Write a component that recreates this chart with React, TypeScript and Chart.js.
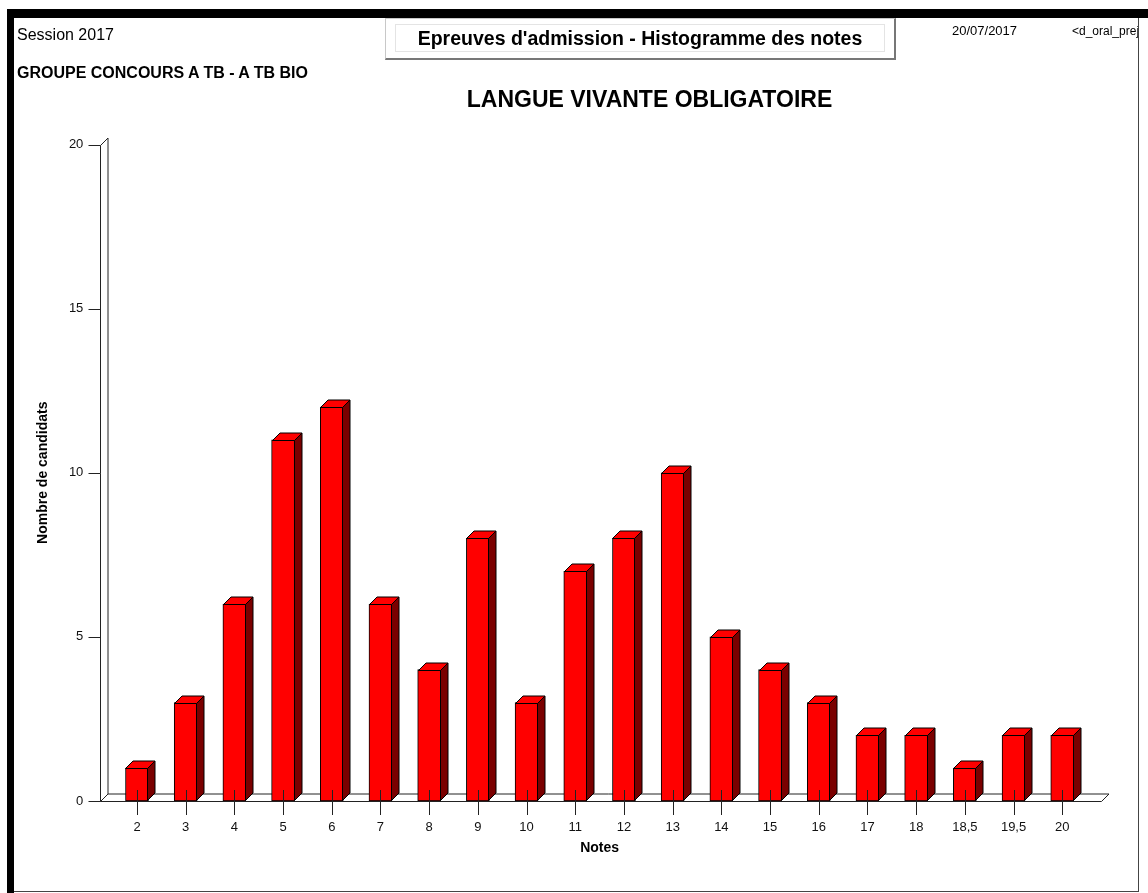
import React, { useEffect, useRef } from "react";
import { Chart, registerables } from "chart.js";

Chart.register(...registerables);

const categories = ["2", "3", "4", "5", "6", "7", "8", "9", "10", "11", "12", "13", "14", "15", "16", "17", "18", "18,5", "19,5", "20"];
const candidats = [1, 3, 6, 11, 12, 6, 4, 8, 3, 7, 8, 10, 5, 4, 3, 2, 2, 1, 2, 2];
const yTicks = [0, 5, 10, 15, 20];

const FONT = '"Liberation Sans", Arial, sans-serif';
const BAR_DX = 7.5;
const BAR_DY = 7.5;
const FLOOR_DX = 7.5;
const FLOOR_DY = 7.5;
const AXIS_COLOR = "#222";

const bar3d = {
  id: "bar3d",
  beforeDatasetsDraw(chart: any) {
    const { ctx, chartArea, scales } = chart;
    const ys = scales.y;
    const x0 = Math.round(chartArea.left - 12.5) + 0.5;
    const xEnd = Math.round(chartArea.right + 14.5) + 0.5;
    const yBase = Math.round(ys.getPixelForValue(0)) + 0.5;
    const yTop = Math.round(ys.getPixelForValue(ys.max)) + 0.5;
    ctx.save();
    ctx.strokeStyle = AXIS_COLOR;
    ctx.lineWidth = 1;
    ctx.beginPath();
    ys.ticks.forEach((t: any) => {
      const py = Math.round(ys.getPixelForValue(t.value)) + 0.5;
      ctx.moveTo(x0 - 12, py);
      ctx.lineTo(x0, py);
    });
    ctx.moveTo(x0, yTop);
    ctx.lineTo(x0, yBase);
    ctx.moveTo(x0 + FLOOR_DX, yTop - FLOOR_DY);
    ctx.lineTo(x0 + FLOOR_DX, yBase - FLOOR_DY);
    ctx.moveTo(x0, yTop);
    ctx.lineTo(x0 + FLOOR_DX, yTop - FLOOR_DY);
    ctx.moveTo(x0, yBase);
    ctx.lineTo(xEnd, yBase);
    ctx.lineTo(xEnd + FLOOR_DX, yBase - FLOOR_DY);
    ctx.lineTo(x0 + FLOOR_DX, yBase - FLOOR_DY);
    ctx.lineTo(x0, yBase);
    ctx.stroke();
    ctx.restore();
  },
  afterDatasetsDraw(chart: any) {
    const { ctx, scales } = chart;
    const meta = chart.getDatasetMeta(0);
    ctx.save();
    ctx.lineWidth = 1;
    ctx.strokeStyle = "#000";
    meta.data.forEach((bar: any) => {
      const { x, y, base, width } = bar.getProps(["x", "y", "base", "width"], true);
      const l = Math.round(x - width / 2) + 0.5;
      const r = Math.round(x + width / 2) - 0.5;
      const t = Math.round(y) + 0.5;
      const b = Math.round(base) - 0.5;
      ctx.beginPath();
      ctx.moveTo(l, t);
      ctx.lineTo(l + BAR_DX, t - BAR_DY);
      ctx.lineTo(r + BAR_DX, t - BAR_DY);
      ctx.lineTo(r, t);
      ctx.closePath();
      ctx.fillStyle = "#FF0000";
      ctx.fill();
      ctx.stroke();
      ctx.beginPath();
      ctx.moveTo(r, t);
      ctx.lineTo(r + BAR_DX, t - BAR_DY);
      ctx.lineTo(r + BAR_DX, b - BAR_DY);
      ctx.lineTo(r, b);
      ctx.closePath();
      ctx.fillStyle = "#7A0000";
      ctx.fill();
      ctx.stroke();
    });
    const xs = scales.x;
    const yBase = Math.round(scales.y.getPixelForValue(0));
    ctx.strokeStyle = AXIS_COLOR;
    ctx.beginPath();
    xs.ticks.forEach((_t: any, i: number) => {
      const px = Math.round(xs.getPixelForTick(i)) + 0.5;
      ctx.moveTo(px, yBase - 11);
      ctx.lineTo(px, yBase + 14);
    });
    ctx.stroke();
    ctx.restore();
  },
};

export default function App() {
  const ref = useRef<HTMLCanvasElement | null>(null);

  useEffect(() => {
    if (!ref.current) return;
    const chart = new Chart(ref.current, {
      type: "bar",
      data: {
        labels: categories,
        datasets: [
          {
            data: candidats,
            backgroundColor: "#FF0000",
            borderColor: "#000",
            borderWidth: 1,
            borderSkipped: false,
            barThickness: 23,
          },
        ],
      },
      options: {
        responsive: false,
        animation: false,
        events: [],
        layout: { padding: { left: 35, top: 144.5, right: 61.4, bottom: 36.6 } },
        plugins: { legend: { display: false }, tooltip: { enabled: false }, title: { display: false } },
        scales: {
          x: {
            type: "category",
            offset: true,
            grid: { display: false, drawTicks: false },
            border: { display: false },
            ticks: { color: "#111", font: { family: FONT, size: 13 }, padding: 19, maxRotation: 0, autoSkip: false },
            title: { display: true, text: "Notes", color: "#000", font: { family: FONT, size: 14, weight: "bold" }, padding: { top: 0, bottom: 0 } },
            afterFit: (s: any) => {
              s.height = 55.4;
            },
          },
          y: {
            min: 0,
            max: 20,
            grid: { display: false, drawTicks: false },
            border: { display: false },
            afterBuildTicks: (s: any) => {
              s.ticks = yTicks.map((v) => ({ value: v }));
            },
            ticks: { color: "#111", font: { family: FONT, size: 13 }, padding: 29.3 },
            title: { display: true, text: "Nombre de candidats", color: "#000", font: { family: FONT, size: 14, weight: "bold" }, padding: { top: 0, bottom: 0 } },
            afterFit: (s: any) => {
              s.width = 77.65;
            },
          },
        },
      },
      plugins: [bar3d],
    } as any);
    return () => chart.destroy();
  }, []);

  const abs = (o: React.CSSProperties): React.CSSProperties => ({ position: "absolute", ...o });

  return (
    <div style={{ position: "fixed", left: 0, top: 0, width: 1148, height: 893, background: "#fff", overflow: "hidden", fontFamily: FONT, color: "#000" }}>
      <canvas ref={ref} width={1148} height={893} style={abs({ left: 0, top: 0, width: 1148, height: 893 })} />
      <div style={abs({ left: 7, top: 9, width: 1141, height: 9, background: "#000" })} />
      <div style={abs({ left: 7, top: 9, width: 7, height: 884, background: "#000" })} />
      <div style={abs({ left: 1138, top: 18, width: 1, height: 874, background: "#444" })} />
      <div style={abs({ left: 14, top: 891, width: 1125, height: 1, background: "#444" })} />
      <div style={abs({ left: 17, top: 26, fontSize: 16, lineHeight: "18px", whiteSpace: "nowrap" })}>Session 2017</div>
      <div style={abs({ left: 17, top: 64, fontSize: 16, lineHeight: "18px", fontWeight: "bold", whiteSpace: "nowrap" })}>GROUPE CONCOURS A TB - A TB BIO</div>
      <div
        style={abs({
          left: 385,
          top: 18,
          width: 511,
          height: 42,
          boxSizing: "border-box",
          borderLeft: "1px solid #c8c8c8",
          borderTop: "1px solid #c8c8c8",
          borderRight: "2px solid #777",
          borderBottom: "2px solid #777",
          background: "#fff",
        })}
      >
        <div
          style={abs({
            left: 9,
            top: 5,
            right: 9,
            bottom: 6,
            border: "1px solid #e4e4e4",
            display: "flex",
            alignItems: "center",
            justifyContent: "center",
            fontSize: 19.5,
            fontWeight: "bold",
            whiteSpace: "nowrap",
          })}
        >
          Epreuves d'admission - Histogramme des notes
        </div>
      </div>
      <div style={abs({ left: 952, top: 23, fontSize: 13, lineHeight: "16px", whiteSpace: "nowrap" })}>20/07/2017</div>
      <div style={abs({ left: 1072, top: 23, width: 66, overflow: "hidden", fontSize: 12, lineHeight: "16px", whiteSpace: "nowrap" })}>&lt;d_oral_prej</div>
      <div style={abs({ left: 349.5, width: 600, top: 85, textAlign: "center", fontSize: 23, lineHeight: "28px", fontWeight: "bold", whiteSpace: "nowrap" })}>
        LANGUE VIVANTE OBLIGATOIRE
      </div>
    </div>
  );
}
